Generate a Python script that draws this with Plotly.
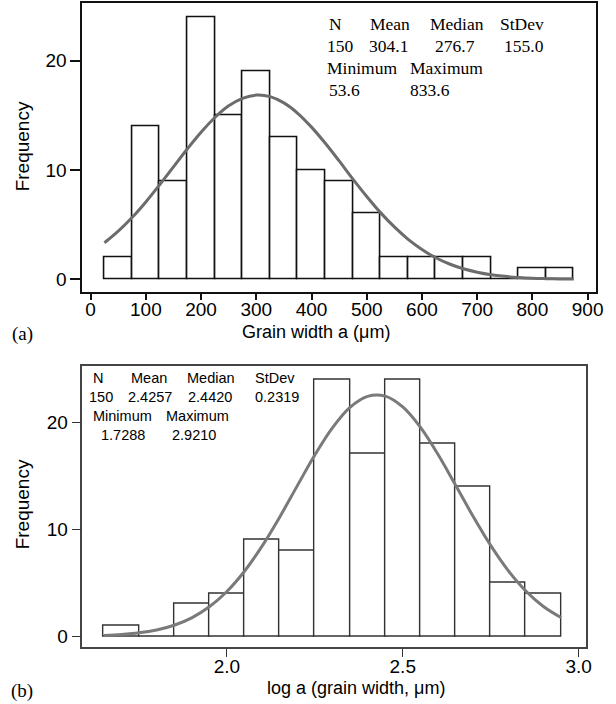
import plotly.graph_objects as go

# ---------------- data ----------------
# (a) grain width histogram
a_bin_centers = [50, 100, 150, 200, 250, 300, 350, 400, 450, 500, 550, 600, 650, 700, 750, 800, 850]
a_counts = [2, 14, 9, 24, 15, 19, 13, 10, 9, 6, 2, 2, 2, 2, 0, 1, 1]
a_bin_width = 50
a_curve_x = [25, 50, 75, 100, 125, 150, 175, 200, 225, 250, 275, 300, 325, 350, 375, 400, 425,
             450, 475, 500, 525, 550, 575, 600, 625, 650, 675, 700, 725, 750, 775, 800, 825, 850, 875]
a_curve_y = [3.34, 4.40, 5.65, 7.08, 8.65, 10.29, 11.92, 13.45, 14.80, 15.87, 16.56, 16.85, 16.71,
             16.14, 15.19, 13.92, 12.44, 10.83, 9.17, 7.58, 6.10, 4.79, 3.66, 2.73, 1.97, 1.40,
             0.96, 0.65, 0.42, 0.27, 0.17, 0.10, 0.06, 0.03, 0.02]
a_xticks = [0, 100, 200, 300, 400, 500, 600, 700, 800, 900]
a_yticks = [0, 10, 20]
a_stat_head1 = ["N", "Mean", "Median", "StDev"]
a_stat_val1 = ["150", "304.1", "276.7", "155.0"]
a_stat_head2 = ["Minimum", "Maximum"]
a_stat_val2 = ["53.6", "833.6"]

# (b) log grain width histogram
b_bin_centers = [1.7, 1.8, 1.9, 2.0, 2.1, 2.2, 2.3, 2.4, 2.5, 2.6, 2.7, 2.8, 2.9]
b_counts = [1, 0, 3, 4, 9, 8, 24, 17, 24, 18, 14, 5, 4]
b_bin_width = 0.1
b_curve_x = [1.65, 1.70, 1.75, 1.80, 1.85, 1.90, 1.95, 2.00, 2.05, 2.10, 2.15, 2.20, 2.25, 2.30,
             2.35, 2.40, 2.45, 2.50, 2.55, 2.60, 2.65, 2.70, 2.75, 2.80, 2.85, 2.90, 2.95]
b_curve_y = [0.08, 0.17, 0.32, 0.59, 1.03, 1.72, 2.75, 4.18, 6.07, 8.41, 11.12, 14.04, 16.92, 19.46,
             21.37, 22.40, 22.42, 21.41, 19.52, 16.99, 14.12, 11.20, 8.48, 6.13, 4.23, 2.78, 1.75]
b_xticks = [2.0, 2.5, 3.0]
b_xticktext = ["2.0", "2.5", "3.0"]
b_yticks = [0, 10, 20]
b_stat_head1 = ["N", "Mean", "Median", "StDev"]
b_stat_val1 = ["150", "2.4257", "2.4420", "0.2319"]
b_stat_head2 = ["Minimum", "Maximum"]
b_stat_val2 = ["1.7288", "2.9210"]

# ---------------- layout helpers ----------------
W, H = 616, 704


def px(x):
    return x / W


def py(y):
    return 1 - y / H


SANS = "Liberation Sans, Arial, sans-serif"
SERIF = "Liberation Serif, Times New Roman, serif"

fig = go.Figure()

# (a)
fig.add_trace(go.Bar(x=a_bin_centers, y=a_counts, width=a_bin_width,
                     marker=dict(color="white", line=dict(color="#111111", width=1.6)),
                     xaxis="x", yaxis="y", hoverinfo="skip"))
fig.add_trace(go.Scatter(x=a_curve_x, y=a_curve_y, mode="lines",
                         line=dict(color="#6c6c6c", width=3, shape="spline"),
                         xaxis="x", yaxis="y", hoverinfo="skip"))
# (b)
fig.add_trace(go.Bar(x=b_bin_centers, y=b_counts, width=b_bin_width,
                     marker=dict(color="white", line=dict(color="#333333", width=1.4)),
                     xaxis="x2", yaxis="y2", hoverinfo="skip"))
fig.add_trace(go.Scatter(x=b_curve_x, y=b_curve_y, mode="lines",
                         line=dict(color="#7a7a7a", width=3, shape="spline"),
                         xaxis="x2", yaxis="y2", hoverinfo="skip"))

axis_common = dict(showgrid=False, zeroline=False, showline=True, mirror=True,
                   ticks="outside", tickfont=dict(family=SANS, size=19, color="#000000"))

fig.update_layout(
    width=W, height=H,
    margin=dict(l=0, r=0, t=0, b=0),
    paper_bgcolor="white", plot_bgcolor="white",
    showlegend=False, bargap=0,
    xaxis=dict(**axis_common, domain=[px(83.3), px(603.3)], range=[-15, 916],
               tickvals=a_xticks, ticklen=6, tickwidth=1.5, tickcolor="#111111",
               linecolor="#111111", linewidth=1.8, anchor="y", ticklabelstandoff=-7),
    yaxis=dict(**axis_common, domain=[py(292.3), py(3.3)], range=[-1.19, 25.25],
               tickvals=a_yticks, ticklen=10, tickwidth=1.5, tickcolor="#111111",
               linecolor="#111111", linewidth=1.8, anchor="x"),
    xaxis2=dict(**axis_common, domain=[px(83.3), px(592.7)], range=[1.589, 3.021],
                tickvals=b_xticks, ticktext=b_xticktext, ticklen=8, tickwidth=1.4,
                tickcolor="#333333", linecolor="#444444", linewidth=1.5, anchor="y2",
                ticklabelstandoff=-7),
    yaxis2=dict(**axis_common, domain=[py(647.3), py(365.7)], range=[-1.03, 25.26],
                tickvals=b_yticks, ticklen=9, tickwidth=1.4, tickcolor="#333333",
                linecolor="#444444", linewidth=1.5, anchor="x2"),
)

ann = []


def text(x, y, s, font, size, xanchor="left", angle=0):
    ann.append(dict(x=px(x), y=py(y), xref="paper", yref="paper", text=s, showarrow=False,
                    xanchor=xanchor, yanchor="middle", textangle=angle,
                    font=dict(family=font, size=size, color="#000000")))


# axis titles and panel letters
text(22.6, 146, "Frequency", SANS, 19, "center", -90)
text(22.6, 504, "Frequency", SANS, 19, "center", -90)
text(320, 332, "Grain width a (μm)", SANS, 18, "center")
text(360, 688, "log a (grain width, μm)", SANS, 18, "center")
text(23, 334, "(a)", SERIF, 19, "center")
text(22, 691, "(b)", SERIF, 19, "center")

# statistics box (a)
for s, x in zip(a_stat_head1, [331, 372, 433, 504]):
    text(x, 24, s, SERIF, 17.5)
for s, x in zip(a_stat_val1, [329, 371, 438, 508]):
    text(x, 46, s, SERIF, 17.5)
for s, x in zip(a_stat_head2, [329, 413]):
    text(x, 68, s, SERIF, 17.5)
for s, x in zip(a_stat_val2, [331, 413]):
    text(x, 90, s, SERIF, 17.5)

# statistics box (b)
for s, x in zip(b_stat_head1, [92, 130, 187, 256]):
    text(x, 378, s, SANS, 14.5)
for s, x in zip(b_stat_val1, [88, 127, 188, 256]):
    text(x, 397.5, s, SANS, 14.5)
for s, x in zip(b_stat_head2, [92, 166]):
    text(x, 416, s, SANS, 14.5)
for s, x in zip(b_stat_val2, [100, 172]):
    text(x, 435, s, SANS, 14.5)

fig.update_layout(annotations=ann)
fig.write_html("out.html")
